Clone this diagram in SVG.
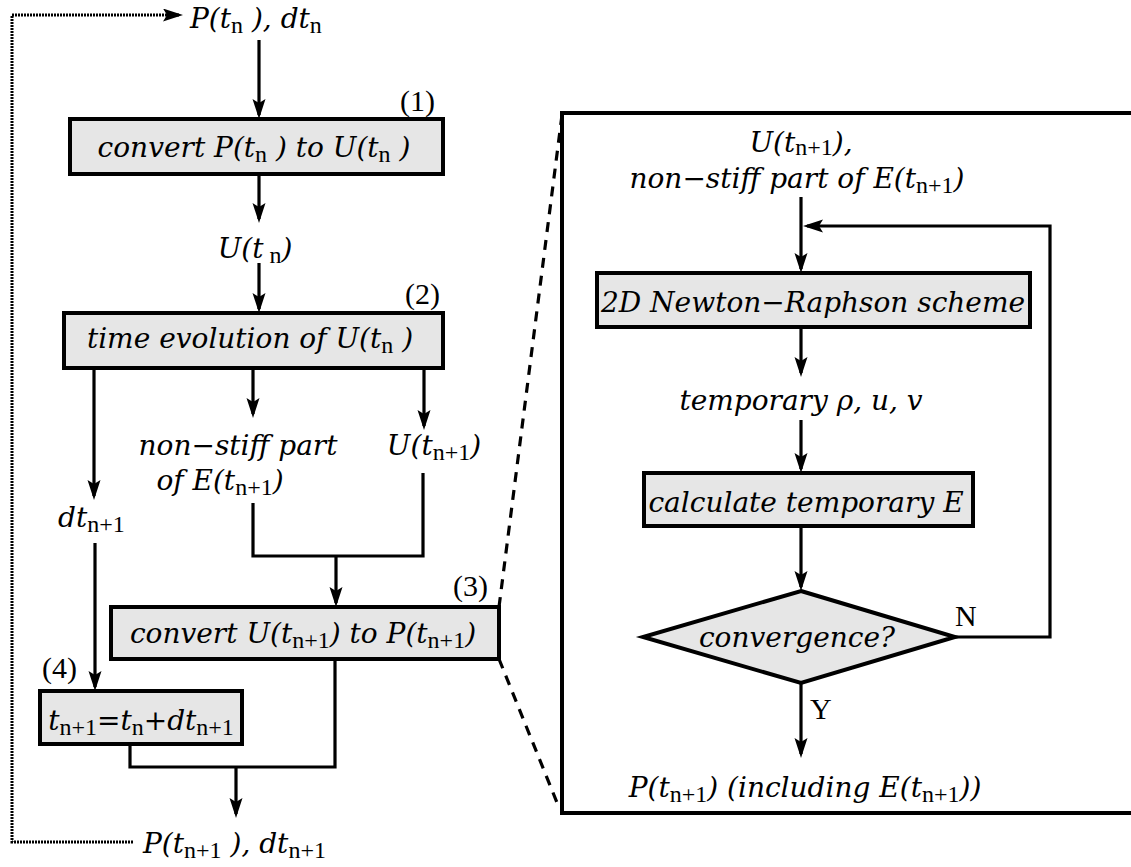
<svg xmlns="http://www.w3.org/2000/svg" width="1131" height="867" viewBox="0 0 1131 867">
<style>
.it{font-family:"DejaVu Serif","Liberation Serif",serif;font-style:italic;font-size:28px;fill:#000}
.sub{font-family:"Liberation Serif",serif;font-style:normal;font-size:24px}
.lab{font-family:"Liberation Serif",serif;font-size:30px;fill:#000}
.box{fill:#e6e6e6;stroke:#000;stroke-width:4}
.ln{fill:none;stroke:#000;stroke-width:3.2}
.arr{fill:none;stroke:#000;stroke-width:3.2;marker-end:url(#ah)}
.dot{fill:none;stroke:#000;stroke-width:3;stroke-dasharray:2 1}
.dash{fill:none;stroke:#000;stroke-width:3.2;stroke-dasharray:10 8}
</style>
<defs>
<marker id="ah" markerUnits="userSpaceOnUse" markerWidth="22" markerHeight="14" refX="16" refY="6.5" orient="auto">
<path d="M0,0 L20,6.5 L0,13 L4,6.5 Z" fill="#000"/>
</marker>
</defs>
<rect width="1131" height="867" fill="#fff"/>

<g id="connectors">
<line class="arr" x1="259" y1="40" x2="259" y2="115"/>
<line class="arr" x1="259" y1="174" x2="259" y2="219"/>
<line class="arr" x1="259" y1="263" x2="259" y2="309"/>
<line class="arr" x1="94" y1="368" x2="94" y2="496"/>
<line class="arr" x1="253" y1="368" x2="253" y2="414"/>
<line class="arr" x1="424" y1="368" x2="424" y2="426"/>
<polyline class="ln" points="253,503 253,556 423,556 423,473"/>
<line class="arr" x1="336" y1="556" x2="336" y2="603"/>
<line class="arr" x1="95" y1="543" x2="95" y2="687"/>
<polyline class="ln" points="130,744 130,767 335,767 335,659"/>
<line class="arr" x1="236" y1="767" x2="236" y2="814"/>
<polyline class="dot" points="133,842 12,842 12,15 179,15" marker-end="url(#ah)"/>
<line class="dash" x1="499" y1="607" x2="562" y2="115"/>
<line class="dash" x1="499" y1="659" x2="558" y2="805"/>
<line class="arr" x1="801" y1="197" x2="801" y2="269"/>
<polyline class="arr" points="955,637 1050,637 1050,226 807,226"/>
<line class="arr" x1="801" y1="327" x2="801" y2="373"/>
<line class="arr" x1="801" y1="420" x2="801" y2="469"/>
<line class="arr" x1="801" y1="526" x2="801" y2="587"/>
<line class="arr" x1="801" y1="683" x2="801" y2="754"/>
</g>

<g id="start">
<text class="it" x="190" y="28">P(t<tspan class="sub" dy="5">n</tspan><tspan dy="-5"> ), dt</tspan><tspan class="sub" dy="5">n</tspan></text>
</g>

<g id="node1">
<rect class="box" x="70" y="119" width="373" height="55"/>
<text class="it" x="254" y="157" text-anchor="middle">convert P(t<tspan class="sub" dy="5">n</tspan><tspan dy="-5"> )  to U(t</tspan><tspan class="sub" dy="5">n</tspan><tspan dy="-5"> )</tspan></text>
<text class="lab" x="400" y="111">(1)</text>
</g>

<g id="utn">
<text class="it" x="255" y="258" text-anchor="middle">U(t<tspan class="sub" dy="5"> n</tspan><tspan dy="-5">)</tspan></text>
</g>

<g id="node2">
<rect class="box" x="64" y="313" width="379" height="55"/>
<text class="it" x="250" y="348" text-anchor="middle">time evolution of U(t<tspan class="sub" dy="5">n</tspan><tspan dy="-5"> )</tspan></text>
<text class="lab" x="405" y="304">(2)</text>
</g>

<g id="nonstiff">
<text class="it" x="238" y="455" text-anchor="middle">non−stiff part</text>
<text class="it" x="220" y="490" text-anchor="middle">of E(t<tspan class="sub" dy="5">n+1</tspan><tspan dy="-5">)</tspan></text>
</g>

<g id="un1">
<text class="it" x="434" y="455" text-anchor="middle">U(t<tspan class="sub" dy="5">n+1</tspan><tspan dy="-5">)</tspan></text>
</g>

<g id="dtn1">
<text class="it" x="58" y="527">dt<tspan class="sub" dy="5">n+1</tspan></text>
</g>

<g id="node3">
<rect class="box" x="111" y="607" width="388" height="52"/>
<text class="it" x="303" y="643" text-anchor="middle">convert U(t<tspan class="sub" dy="5">n+1</tspan><tspan dy="-5">) to P(t</tspan><tspan class="sub" dy="5">n+1</tspan><tspan dy="-5">)</tspan></text>
<text class="lab" x="453" y="596">(3)</text>
</g>

<g id="node4">
<rect class="box" x="40" y="691" width="202" height="53"/>
<text class="it" x="141" y="730" text-anchor="middle">t<tspan class="sub" dy="5">n+1</tspan><tspan dy="-5">=t</tspan><tspan class="sub" dy="5">n</tspan><tspan dy="-5">+dt</tspan><tspan class="sub" dy="5">n+1</tspan></text>
<text class="lab" x="42" y="678">(4)</text>
</g>

<g id="end">
<text class="it" x="143" y="853">P(t<tspan class="sub" dy="5">n+1</tspan><tspan dy="-5"> ), dt</tspan><tspan class="sub" dy="5">n+1</tspan></text>
</g>

<g id="detail">
<rect x="562" y="113" width="600" height="700" fill="none" stroke="#000" stroke-width="4"/>
</g>

<g id="inputs">
<text class="it" x="801" y="152" text-anchor="middle">U(t<tspan class="sub" dy="3">n+1</tspan><tspan dy="-3">),</tspan></text>
<text class="it" x="797" y="188" text-anchor="middle">non−stiff part of E(t<tspan class="sub" dy="5">n+1</tspan><tspan dy="-5">)</tspan></text>
</g>

<g id="newton">
<rect class="box" x="597" y="273" width="433" height="54"/>
<text class="it" x="813" y="312" text-anchor="middle">2D Newton−Raphson scheme</text>
</g>

<g id="temp">
<text class="it" x="801" y="410" text-anchor="middle">temporary ρ, u, v</text>
</g>

<g id="calcE">
<rect class="box" x="644" y="473" width="329" height="53"/>
<text class="it" x="806" y="512" text-anchor="middle">calculate temporary E</text>
</g>

<g id="conv">
<polygon class="box" points="801,591 955,637 801,683 643,637"/>
<text class="it" x="797" y="647" text-anchor="middle">convergence?</text>
<text class="lab" x="955" y="626">N</text>
<text class="lab" x="810" y="719">Y</text>
</g>

<g id="result">
<text class="it" x="805" y="797" text-anchor="middle">P(t<tspan class="sub" dy="5">n+1</tspan><tspan dy="-5">) (including E(t</tspan><tspan class="sub" dy="5">n+1</tspan><tspan dy="-5">))</tspan></text>
</g>
</svg>
